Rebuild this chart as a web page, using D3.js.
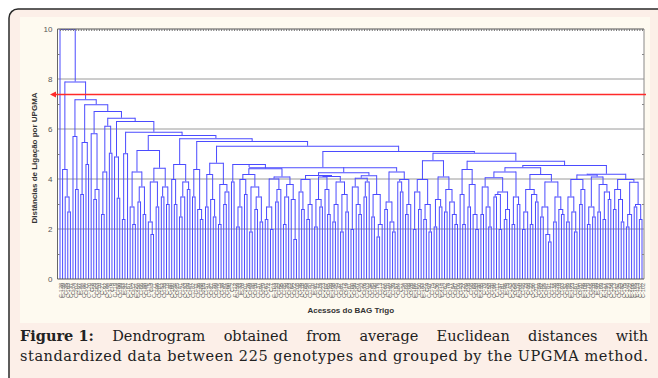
<!DOCTYPE html>
<html>
<head>
<meta charset="utf-8">
<script src="https://cdn.jsdelivr.net/npm/d3@7"></script>
<style>
  body { margin: 0; background: #fff; }
  svg { display: block; }
</style>
</head>
<body>
<svg id="chart" width="658" height="378"></svg>
<script>
// ---- data ----
const yTicks = [0, 2, 4, 6, 8, 10]
const yMinorTicks = [1, 3, 5, 7, 9]
const gridValues = [2, 4, 6, 8]
const cutHeight = 7.38
const yTitle = 'Distâncias de Ligação por UPGMA'
const xTitle = 'Acessos do BAG Trigo'
const captionBold = 'Figure 1:'
const captionLine1 = 'Dendrogram obtained from average Euclidean distances with'
const captionLine2 = 'standardized data between 225 genotypes and grouped by the UPGMA method.'

// clusters as nested groups: "o" = one accession, number after ")" = linkage distance
const grpM_left = '((o,o)3.9,(((((o,o)2.1,o)2.9,(o,o)3.4)4.0,((o,o)1.9,((o,o)2.8,(o,o)2.3)3.3)3.7)4.2,((((o,o)2.4,(o,o)2.0)2.9,((o,o)3.1,o)3.6)4.02,(((o,o)2.2,o)3.3,(o,(o,o)1.6)3.2)3.8)4.1)4.43)4.6'
const grpM_right = '((((o,(o,o)2.8)3.5,((o,o)2.4,o)3.0)4.0,((((o,o)2.1,(o,o)2.9)3.2,(o,(o,o)2.6)3.6)4.1,(((o,o)2.3,o)3.0,((o,o)1.9,(o,o)2.7)3.4)3.9)4.12)4.16,((((o,o)2.0,(o,(o,o)2.6)3.0)3.7,((o,o)3.3,o)3.9)4.05,((o,o)2.5,((o,o)1.7,o)2.2)3.4)4.15)4.27,(((o,o)2.8,(o,(o,o)1.9)2.3)3.1,((o,(o,o)3.5)3.9,((o,o)2.6,o)3.0)4.0)4.3)4.47'
const grpN_left = '((((o,o)2.6,(o,(o,o)2.1)2.9)3.7,(((o,o)3.3,(o,o)2.0)3.4,((o,o)2.4,o)2.8)3.5)4.07,((o,o)2.2,(o,o)3.0)3.3)4.3'
const grpN_right = '((((o,o)2.0,o)2.7,((o,o)2.2,(o,o)3.1)3.4)3.6,(((o,o)2.5,(o,(o,o)1.5)1.8)2.9,((o,o)2.3,(o,(o,o)2.6)2.8)3.3)3.9)4.2'
const grpU = '((((o,o)2.3,(o,(o,o)1.9)2.7)3.3,((o,o)3.0,o)3.6)4.0,(((o,o)2.2,(o,o)2.5)2.9,((o,o)2.7,((o,o)2.4,(o,o)3.2)3.5)3.8)4.1)4.18'
const grpV = '(((o,o)2.8,(o,(o,o)2.3)3.2)3.6,(((o,o)2.1,o)2.6,((o,o)2.9,(o,o)2.4)3.0)3.89)4.0'

// main chain: each step joins one cluster (left) with everything to its right
const chainHeights = [10, 7.9, 7.19, 6.99, 6.72, 6.45, 6.32, 5.89, 5.76, 5.63, 5.52, 5.33, 5.12, 5.05, 4.73, 4.56]
const chainClusters = [
  'o',
  '(o,(o,(o,o)2.7)3.3)4.4',
  '(o,(o,o)3.6)5.72',
  '((o,o)3.4,(o,o)4.6)5.48',
  '(o,((o,o)3.2,o)3.6)5.83',
  '(((o,o)2.6,o)4.3,(o,o)5.05)6.13',
  '(o,(o,o)3.25)4.9',
  '((o,o)2.4,o)5.03',
  '(((o,(o,o)2.2)2.9,((o,o)3.1,(o,o)2.6)3.7)4.3,(((o,(o,o)1.8)2.3,(o,o)2.9)3.9,((o,o)3.3,(o,o)3.0)3.7)4.45)5.16',
  '((o,(o,o)3.0)4.0,(((o,o)2.5,o)3.3,(o,o)3.6)3.9)4.6',
  '((o,o)3.3,(o,(o,o)2.4)2.8)4.4',
  '(((o,o)2.9,(o,(o,o)2.5)3.2)4.2,((o,o)2.2,((o,o)3.0,o)3.5)3.8)4.65',
  `(${grpM_left},${grpM_right})4.76`,
  '((((o,o)2.0,(o,o)2.8)3.5,((o,o)2.4,(o,o)1.9)3.0)4.0,(((o,o)2.1,(o,o)2.9)3.2,((o,o)2.7,(o,(o,(o,o)2.2)2.6)3.1)3.6)4.1)4.75',
  '((o,(o,o)2.2)3.4,((o,o)2.9,(o,(o,o)2.0)2.6)3.8)4.4',
  `(${grpN_left},${grpN_right})4.47`
]
const chainEnd = `(${grpU},${grpV})4.21`

const accessionNumbers = [
  128, 139, 35, 163, 131, 14, 202, 97, 44, 186, 71, 120, 8, 155, 63,
  210, 27, 92, 144, 176, 5, 119, 58, 199, 83, 31, 167, 104, 12, 221,
  150, 66, 188, 40, 115, 3, 171, 96, 207, 52, 133, 18, 80, 160, 224,
  25, 141, 74, 193, 109, 47, 182, 11, 136, 88, 205, 57, 124, 21, 170,
  99, 215, 38, 147, 68, 190, 2, 112, 159, 33, 78, 201, 126, 49, 180,
  16, 137, 94, 219, 61, 172, 7, 103, 153, 42, 195, 85, 129, 23, 164,
  72, 208, 36, 118, 185, 54, 140, 10, 91, 177, 29, 223, 107, 65, 149,
  198, 45, 132, 81, 212, 19, 161, 100, 56, 187, 4, 122, 76, 203, 34,
  145, 90, 174, 13, 217, 60, 110, 192, 39, 157, 84, 1, 134, 69, 209,
  26, 166, 101, 50, 183, 121, 9, 197, 75, 142, 30, 214, 114, 62, 178,
  17, 154, 87, 206, 43, 127, 189, 6, 98, 168, 53, 220, 135, 79, 24,
  158, 70, 196, 111, 37, 181, 95, 15, 143, 225, 64, 116, 200, 48, 173,
  86, 22, 130, 211, 59, 162, 105, 41, 191, 77, 138, 28, 218, 93, 151,
  46, 184, 123, 67, 204, 20, 146, 108, 179, 55, 216, 89, 32, 169, 117,
  194, 73, 156, 213, 51, 125, 82, 175, 148, 222, 106, 165, 113, 152, 102
]

// ---- parse ----
function parseGroup(s) {
  let pos = 0
  function node() {
    if (s[pos] === '(') {
      pos++
      const children = [node()]
      while (s[pos] === ',') { pos++; children.push(node()) }
      pos++ // ')'
      let num = ''
      while (pos < s.length && /[0-9.]/.test(s[pos])) num += s[pos++]
      return { height: +num, children }
    }
    pos++ // leaf
    return { height: 0 }
  }
  return node()
}

let treeData = parseGroup(chainEnd)
for (let k = chainHeights.length - 1; k >= 0; k--) {
  treeData = { height: chainHeights[k], children: [parseGroup(chainClusters[k]), treeData] }
}

// ---- layout ----
const svg = d3.select('#chart')
const plot = { left: 57.5, right: 644, top: 29, bottom: 279 }

svg.append('rect').attr('x', 9).attr('y', 9).attr('width', 700).attr('height', 420)
  .attr('rx', 9).attr('fill', '#fcefe8').attr('stroke', '#2a2a2a').attr('stroke-width', 1.5)
svg.append('rect').attr('x', 20).attr('y', 17).attr('width', 630).attr('height', 306)
  .attr('fill', '#fefaf0')
svg.append('rect').attr('x', plot.left).attr('y', plot.top)
  .attr('width', plot.right - plot.left).attr('height', plot.bottom - plot.top).attr('fill', '#fff')

const y = d3.scaleLinear().domain([0, 10]).range([plot.bottom, plot.top])

const root = d3.hierarchy(treeData)
const leaves = root.leaves()
const x = d3.scalePoint().domain(d3.range(leaves.length)).range([60, 642])
leaves.forEach((d, i) => { d.index = i; d.x = x(i) })
root.eachAfter(d => {
  if (d.children) d.x = (d.children[0].x + d.children[d.children.length - 1].x) / 2
})

// grid
svg.append('g').selectAll('line').data(gridValues).join('line')
  .attr('x1', plot.left).attr('x2', plot.right)
  .attr('y1', d => y(d)).attr('y2', d => y(d))
  .attr('stroke', '#9a9a9a').attr('stroke-width', 1)

// dendrogram
const g = svg.append('g').attr('fill', 'none').attr('stroke', '#4b4bff').attr('stroke-width', 1)
g.selectAll('.stem').data(root.descendants().filter(d => d.parent)).join('line')
  .attr('class', 'stem')
  .attr('x1', d => d.x).attr('x2', d => d.x)
  .attr('y1', d => y(d.data.height)).attr('y2', d => y(d.parent.data.height))
g.selectAll('.bar').data(root.descendants().filter(d => d.children)).join('line')
  .attr('class', 'bar')
  .attr('x1', d => d.children[0].x).attr('x2', d => d.children[d.children.length - 1].x)
  .attr('y1', d => y(d.data.height) + 0.5).attr('y2', d => y(d.data.height) + 0.5)

// frame
const frame = svg.append('g').attr('stroke', '#666').attr('stroke-width', 1)
frame.append('line').attr('x1', plot.left).attr('x2', plot.left).attr('y1', plot.top).attr('y2', plot.bottom)
frame.append('line').attr('x1', plot.right).attr('x2', plot.right).attr('y1', plot.top).attr('y2', plot.bottom).attr('stroke', '#888')
frame.append('line').attr('x1', plot.left).attr('x2', plot.right).attr('y1', plot.bottom).attr('y2', plot.bottom).attr('stroke', '#555')
frame.append('line').attr('x1', plot.left).attr('x2', plot.right).attr('y1', plot.top).attr('y2', plot.top).attr('stroke', '#555')

// top leaf ticks
svg.append('g').attr('transform', `translate(0,${plot.top})`)
  .call(d3.axisTop(x).tickSize(-2).tickFormat(''))
  .call(a => a.select('.domain').remove())
  .selectAll('line').attr('stroke', '#777')

// y axis
svg.append('g').attr('transform', `translate(${plot.left},0)`)
  .call(d3.axisLeft(y).tickValues(yTicks).tickSize(0).tickPadding(5))
  .call(a => a.select('.domain').remove())
  .selectAll('text').attr('font-family', 'Liberation Sans, Arial, sans-serif')
  .attr('font-size', 8).attr('fill', '#555')

svg.append('g').attr('transform', `translate(${plot.left},0)`)
  .call(d3.axisLeft(y).tickValues(yMinorTicks).tickSize(-2).tickFormat(''))
  .call(a => a.select('.domain').remove())
  .selectAll('line').attr('stroke', '#777')
svg.append('g').attr('transform', `translate(${plot.right},0)`)
  .call(d3.axisRight(y).tickValues(yMinorTicks).tickSize(-2).tickFormat(''))
  .call(a => a.select('.domain').remove())
  .selectAll('line').attr('stroke', '#888')

// leaf labels
svg.append('g').attr('transform', `translate(0,${plot.bottom})`)
  .call(d3.axisBottom(x).tickSize(0).tickPadding(0).tickFormat(i => 'C-' + accessionNumbers[i]))
  .call(a => a.select('.domain').remove())
  .selectAll('text')
  .attr('font-family', 'Liberation Sans, Arial, sans-serif').attr('font-size', 5.5).attr('fill', '#666')
  .attr('text-anchor', 'end').attr('dy', 0)
  .attr('transform', 'translate(2,4) rotate(-90)')

// cut line
svg.append('line').attr('x1', 53).attr('x2', 646)
  .attr('y1', y(cutHeight)).attr('y2', y(cutHeight))
  .attr('stroke', '#ff2a2a').attr('stroke-width', 1.5)
svg.append('path')
  .attr('d', `M50,${y(cutHeight)} l6,-3 l0,6 Z`).attr('fill', '#ff2a2a')

// titles
svg.append('text')
  .attr('transform', `translate(36.5,158) rotate(-90)`)
  .attr('text-anchor', 'middle').attr('font-family', 'Liberation Sans, Arial, sans-serif')
  .attr('font-weight', 'bold').attr('font-size', 8).attr('fill', '#333')
  .text(yTitle)
svg.append('text')
  .attr('x', (plot.left + plot.right) / 2).attr('y', 313)
  .attr('text-anchor', 'middle').attr('font-family', 'Liberation Sans, Arial, sans-serif')
  .attr('font-weight', 'bold').attr('font-size', 8).attr('fill', '#333')
  .text(xTitle)

// caption, first line justified
const capFont = 'DejaVu Serif, serif'
const capSize = 14.5
const capLeft = 20, capRight = 648
const line1 = svg.append('g').attr('font-family', capFont).attr('font-size', capSize).attr('fill', '#222')
const words = [captionBold].concat(captionLine1.split(' '))
const wEls = words.map((w, i) => line1.append('text').attr('y', 341)
  .attr('font-weight', i === 0 ? 'bold' : 'normal').text(w))
const widths = wEls.map(t => t.node().getComputedTextLength())
const gap = (capRight - capLeft - d3.sum(widths)) / (words.length - 1)
let cx = capLeft
wEls.forEach((t, i) => { t.attr('x', cx); cx += widths[i] + gap })

svg.append('text').attr('x', capLeft).attr('y', 361)
  .attr('font-family', capFont).attr('font-size', capSize).attr('fill', '#222')
  .attr('textLength', capRight - capLeft).attr('lengthAdjust', 'spacing')
  .text(captionLine2)
</script>
</body>
</html>
